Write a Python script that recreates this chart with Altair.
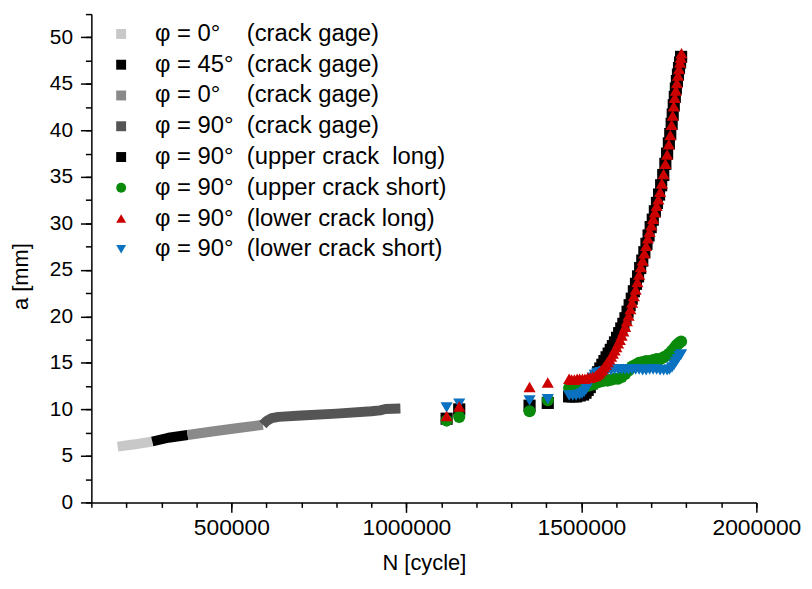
import altair as alt
import pandas as pd

NB = "\u00a0"

# ---- series keys, labels, styles (legend order) ----
keys = ["g0a", "g45", "g0b", "g90", "ul", "us", "ll", "ls"]
labels = [
    "φ = 0°" + NB * 4 + "(crack gage)",
    "φ = 45°" + NB * 2 + "(crack gage)",
    "φ = 0°" + NB * 4 + "(crack gage)",
    "φ = 90°" + NB * 2 + "(crack gage)",
    "φ = 90°" + NB * 2 + "(upper crack" + NB + " long)",
    "φ = 90°" + NB * 2 + "(upper crack short)",
    "φ = 90°" + NB * 2 + "(lower crack long)",
    "φ = 90°" + NB * 2 + "(lower crack short)",
]
colors = ["#c8c8c8", "#000000", "#8a8a8a", "#555555", "#000000", "#0a8a0a", "#cc0000", "#0a72c0"]
shapes = ["square", "square", "square", "square", "square", "circle", "triangle-up", "triangle-down"]

# ---- crack gage bands ----
g0a_N = [175000, 225000, 274000]
g0a_a = [6.0, 6.25, 6.55]
g45_N = [274000, 320000, 375000]
g45_a = [6.55, 6.95, 7.25]
g0b_N = [375000, 450000, 520000, 590000]
g0b_a = [7.25, 7.65, 8.0, 8.35]
g90_N = [590000, 600000, 615000, 635000, 700000, 800000, 900000, 925000, 940000, 983000]
g90_a = [8.35, 8.75, 9.05, 9.2, 9.35, 9.55, 9.8, 9.9, 10.05, 10.1]

# ---- upper crack long (black squares) ----
ul_N = [1115000, 1151000, 1352000, 1404000,
        1465000, 1475000, 1485000, 1495000, 1505000, 1512000, 1518000, 1524000, 1530000,
        1536000, 1542000, 1548000, 1554000, 1560000, 1566000, 1572000, 1578000, 1584000,
        1590000, 1596000, 1602000, 1608000, 1614000, 1620000, 1626000, 1632000, 1638000,
        1644000, 1650000, 1656000, 1662000, 1668000, 1674000, 1680000, 1686000, 1692000,
        1698000, 1704000, 1710000, 1716000, 1722000, 1728000, 1734000, 1740000, 1745000,
        1750000, 1754000, 1758000, 1761000, 1764000, 1767000, 1770000, 1773000, 1776000,
        1779000, 1782000, 1785000]
ul_a = [9.0, 10.0, 10.4, 10.7,
        11.4, 11.4, 11.4, 11.5, 11.6, 11.8, 12.1, 12.4, 12.8,
        13.2, 13.6, 14.0, 14.4, 14.8, 15.2, 15.6, 16.0, 16.4,
        16.8, 17.2, 17.7, 18.2, 18.7, 19.2, 19.8, 20.5, 21.2,
        21.9, 22.7, 23.5, 24.3, 25.2, 26.0, 26.9, 27.8, 28.7,
        29.6, 30.4, 31.3, 32.2, 33.1, 34.1, 35.2, 36.4, 37.5,
        38.6, 39.6, 40.7, 41.7, 42.7, 43.6, 44.5, 45.3, 46.0,
        46.7, 47.3, 47.9]

# ---- upper crack short (green circles) ----
us_N = [1115000, 1151000, 1352000, 1404000,
        1465000, 1475000, 1485000, 1495000, 1505000, 1515000, 1525000, 1535000, 1545000,
        1555000, 1565000, 1575000, 1585000, 1595000, 1605000, 1615000, 1625000, 1635000,
        1645000, 1655000, 1665000, 1675000, 1685000, 1695000, 1705000, 1715000, 1725000,
        1735000, 1745000, 1752000, 1759000, 1766000, 1772000, 1778000, 1785000]
us_a = [8.8, 9.2, 9.8, 11.0,
        12.3, 12.2, 12.2, 12.3, 12.4, 12.5, 12.6, 12.7, 12.9,
        13.0, 13.1, 13.1, 13.2, 13.3, 13.3, 13.5, 13.8, 14.2,
        14.6, 14.8, 15.0, 15.1, 15.2, 15.2, 15.3, 15.4, 15.4,
        15.6, 15.8, 16.0, 16.3, 16.6, 16.9, 17.1, 17.3]

# ---- lower crack long (red triangles up) ----
ll_N = [1115000, 1151000, 1352000, 1404000,
        1465000, 1472000, 1480000, 1488000, 1495000, 1503000, 1510000, 1518000, 1525000,
        1532000, 1540000, 1545000, 1550000, 1555000, 1560000, 1565000, 1570000, 1575000,
        1580000, 1585000, 1590000, 1595000, 1600000, 1605000, 1610000, 1615000, 1620000,
        1625000, 1630000, 1635000, 1640000, 1645000, 1650000, 1655000, 1660000, 1665000,
        1670000, 1675000, 1680000, 1685000, 1690000, 1695000, 1700000, 1705000, 1710000,
        1715000, 1720000, 1725000, 1730000, 1735000, 1740000, 1745000, 1750000, 1754000,
        1758000, 1761000, 1764000, 1767000, 1770000, 1773000, 1776000, 1779000, 1782000,
        1784000, 1786000]
ll_a = [9.3, 10.3, 12.4, 12.9,
        13.3, 13.2, 13.2, 13.3, 13.3, 13.3, 13.3, 13.4, 13.4,
        13.5, 13.6, 13.75, 13.9, 14.1, 14.3, 14.55, 14.8, 15.1,
        15.4, 15.7, 16.0, 16.35, 16.7, 17.1, 17.5, 17.95, 18.4,
        18.9, 19.5, 20.1, 20.8, 21.5, 22.2, 22.9, 23.7, 24.5,
        25.3, 26.0, 26.8, 27.6, 28.4, 29.1, 29.8, 30.5, 31.2,
        31.9, 32.6, 33.4, 34.3, 35.3, 36.4, 37.4, 38.5, 39.5,
        40.6, 41.6, 42.6, 43.5, 44.3, 45.1, 45.9, 46.6, 47.3,
        47.8, 48.3]

# ---- lower crack short (blue triangles down) ----
ls_N = [1115000, 1151000, 1352000, 1404000,
        1465000, 1475000, 1485000, 1495000, 1502000, 1508000, 1514000, 1520000, 1526000,
        1532000, 1538000, 1545000, 1555000, 1565000, 1575000, 1585000, 1595000, 1605000,
        1615000, 1625000, 1635000, 1645000, 1655000, 1665000, 1675000, 1685000, 1695000,
        1705000, 1715000, 1725000, 1735000, 1745000, 1752000, 1759000, 1765000, 1770000,
        1775000, 1780000, 1785000]
ls_a = [10.2, 10.6, 10.95, 11.1,
        11.5, 11.5, 11.5, 11.6, 11.7, 11.9, 12.2, 12.6, 13.0,
        13.4, 13.7, 13.9, 14.0, 14.1, 14.2, 14.2, 14.3, 14.3,
        14.3, 14.3, 14.3, 14.3, 14.3, 14.3, 14.2, 14.2, 14.3,
        14.3, 14.3, 14.2, 14.2, 14.2, 14.3, 14.5, 14.8, 15.1,
        15.4, 15.7, 15.9]

# ---- axis ticks ----
x_major = [500000, 1000000, 1500000, 2000000]
x_minor = list(range(100000, 2000001, 100000))
y_major = list(range(0, 51, 5))
y_minor = [v / 2 for v in range(0, 106, 5)]

FONT = "Liberation Sans"

def frame(series, N, a):
    return pd.DataFrame({"series": series, "N": N, "a": a})

lines_df = pd.concat([
    frame("g0a", g0a_N, g0a_a),
    frame("g45", g45_N, g45_a),
    frame("g0b", g0b_N, g0b_a),
    frame("g90", g90_N, g90_a),
], ignore_index=True)

# drawing order: black, green, blue, red (red on top)
points_df = pd.concat([
    frame("ul", ul_N, ul_a),
    frame("us", us_N, us_a),
    frame("ls", ls_N, ls_a),
    frame("ll", ll_N, ll_a),
], ignore_index=True)

label_expr = ""
for k, lab in zip(keys, labels):
    label_expr += f"datum.value == '{k}' ? '{lab}' : "
label_expr += "''"

xscale = alt.Scale(domain=[100000, 2000000], nice=False, zero=False)
yscale = alt.Scale(domain=[0, 52.5], nice=False, zero=False)
cscale = alt.Scale(domain=keys, range=colors)
sscale = alt.Scale(domain=keys, range=shapes)
# stroke scale for the gage bands only (own domain, no legend)
stroke_scale = alt.Scale(domain=keys[:4], range=colors[:4])

legend = alt.Legend(
    title=None, orient="none", legendX=18, legendY=8,
    labelExpr=label_expr, labelFont=FONT, labelFontSize=24, labelColor="black",
    labelLimit=0,
    symbolSize=100, rowPadding=7, labelOffset=22, symbolStrokeWidth=0,
    symbolOpacity=1, padding=0,
)

x_axis = alt.Axis(
    values=x_major, format="d", grid=False, tickSize=10, tickWidth=1.5,
    domainWidth=1.5, domainColor="black", tickColor="black",
    labelFont=FONT, labelFontSize=23, labelColor="black", labelPadding=4,
    labelFlush=False, labelOverlap=False,
    title="N [cycle]", titleFont=FONT, titleFontSize=22, titleFontWeight="normal",
    titleColor="black", titleY=51, orient="bottom",
)
y_axis = alt.Axis(
    values=y_major, grid=False, tickSize=11, tickWidth=1.5,
    domainWidth=1.5, domainColor="black", tickColor="black",
    labelFont=FONT, labelFontSize=21, labelColor="black", labelPadding=8,
    labelFlush=False, labelOverlap=False,
    title="a [mm]", titleFont=FONT, titleFontSize=22, titleFontWeight="normal",
    titleColor="black", titleX=-59, titleY=264, orient="left",
)

lines = alt.Chart(lines_df).mark_line(strokeWidth=10, strokeCap="butt", strokeJoin="round").encode(
    x=alt.X("N:Q", scale=xscale, axis=x_axis),
    y=alt.Y("a:Q", scale=yscale, axis=y_axis),
    stroke=alt.Stroke("series:N", scale=stroke_scale, legend=None),
    detail="series:N",
)

points = alt.Chart(points_df).mark_point(filled=True, size=150, opacity=1, strokeWidth=0).encode(
    x=alt.X("N:Q", scale=xscale, axis=None),
    y=alt.Y("a:Q", scale=yscale, axis=None),
    color=alt.Color("series:N", scale=cscale, legend=legend),
    shape=alt.Shape("series:N", scale=sscale, legend=legend),
)

minor = alt.Chart(points_df).mark_point(opacity=0).encode(
    x=alt.X("N:Q", scale=xscale, axis=alt.Axis(
        orient="bottom", values=x_minor, labels=False, tickSize=5, tickWidth=1.5,
        tickColor="black", domain=False, grid=False, title=None)),
    y=alt.Y("a:Q", scale=yscale, axis=alt.Axis(
        orient="left", values=y_minor, labels=False, tickSize=6, tickWidth=1.5,
        tickColor="black", domain=False, grid=False, title=None)),
)

chart = alt.layer(lines, points, minor).resolve_axis(
    x="independent", y="independent"
).properties(
    width=670, height=492,
    padding={"left": 84, "top": 4, "right": 48, "bottom": 72},
    autosize=alt.AutoSizeParams(type="none"),
    background="white",
).configure_view(stroke=None)

chart.save("out.html", embed_options={"renderer": "svg", "actions": False})
